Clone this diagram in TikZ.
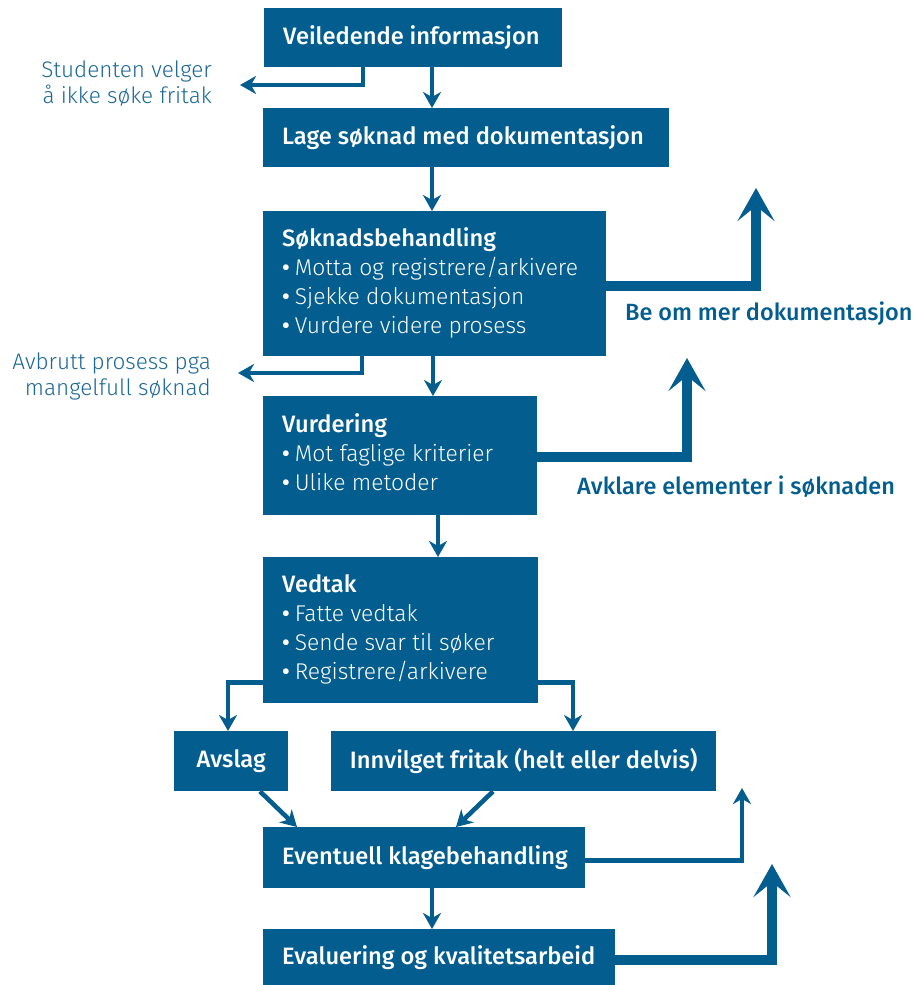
\documentclass[tikz,border=0pt]{standalone}
\usepackage{fontspec}
\usetikzlibrary{arrows.meta}
\setmainfont{Fira Sans}
\IfFontExistsTF{Fira Sans Light}{\newfontfamily\lightf{Fira Sans Light}}{%
  \IfFontExistsTF{FiraSans-Light}{\newfontfamily\lightf{FiraSans-Light}}{\newcommand\lightf{\rmfamily\mdseries}}}
\IfFontExistsTF{Fira Sans Medium}{\newfontfamily\medf{Fira Sans Medium}}{%
  \IfFontExistsTF{FiraSans-Medium}{\newfontfamily\medf{FiraSans-Medium}}{\newcommand\medf{\bfseries}}}
\newcommand\bul{{\medf •}\hspace{5pt}}
\definecolor{uioblue}{RGB}{3,94,143}
\definecolor{lblblue}{RGB}{28,104,150}
\begin{document}
\begin{tikzpicture}[x=1pt,y=-1pt,
  box/.style={fill=uioblue, text=white, inner xsep=19pt, inner ysep=0pt, anchor=north west,
    font=\medf\fontsize{23.7}{29}\selectfont},
  cbox/.style={box, inner xsep=0pt},
  tarrow/.style={draw=uioblue, line width=4.6pt, -{Stealth[length=16pt,width=18pt,inset=5pt]}},
  Tarrow/.style={draw=uioblue, line width=10pt, -{Stealth[length=33pt,width=37pt,inset=15pt]}},
  lab/.style={text=lblblue, font=\lightf\fontsize{22.5}{26}\selectfont, inner sep=0pt, align=right},
  rlab/.style={text=uioblue, font=\medf\fontsize{23.5}{29}\selectfont, inner sep=0pt}]
\useasboundingbox (0,0) rectangle (914,985);

% boxes
\node[box, minimum width=298pt, minimum height=59pt] (b1) at (264,8)
  {\makebox[260pt][l]{Veiledende informasjon}};
\node[box, minimum width=406pt, minimum height=59pt] (b2) at (263,108)
  {\makebox[368pt][l]{Lage søknad med dokumentasjon}};
\node[box, minimum width=343pt, minimum height=145pt] (b3) at (263,211)
  {\makebox[305pt][l]{\begin{tabular}{@{}l@{}}Søknadsbehandling\\
   {\lightf\fontsize{22.8}{29}\selectfont\bul Motta og registrere/arkivere}\\
   {\lightf\fontsize{22.8}{29}\selectfont\bul Sjekke dokumentasjon}\\
   {\lightf\fontsize{22.8}{29}\selectfont\bul Vurdere videre prosess}\end{tabular}}};
\node[box, minimum width=274pt, minimum height=119pt] (b4) at (263,396)
  {\makebox[236pt][l]{\begin{tabular}{@{}l@{}}Vurdering\\
   {\lightf\fontsize{22.8}{29}\selectfont\bul Mot faglige kriterier}\\
   {\lightf\fontsize{22.8}{29}\selectfont\bul Ulike metoder}\end{tabular}}};
\node[box, minimum width=275pt, minimum height=146pt] (b5) at (263,557)
  {\makebox[237pt][l]{\begin{tabular}{@{}l@{}}Vedtak\\
   {\lightf\fontsize{22.8}{29}\selectfont\bul Fatte vedtak}\\
   {\lightf\fontsize{22.8}{29}\selectfont\bul Sende svar til søker}\\
   {\lightf\fontsize{22.8}{29}\selectfont\bul Registrere/arkivere}\end{tabular}}};
\node[cbox, minimum width=114pt, minimum height=60pt] (b6) at (174,731) {Avslag};
\node[cbox, minimum width=385pt, minimum height=60pt] (b7) at (331,731) {Innvilget fritak (helt eller delvis)};
\node[box, minimum width=322pt, minimum height=61pt] (b8) at (263,827)
  {\makebox[284pt][l]{Eventuell klagebehandling}};
\node[box, minimum width=352pt, minimum height=56pt] (b9) at (263,929)
  {\makebox[314pt][l]{Evaluering og kvalitetsarbeid}};

% side labels
\node[lab, anchor=east] (l1) at (212,84) {Studenten velger\\å ikke søke fritak};
\node[lab, anchor=east] (l2) at (211,376) {Avbrutt prosess pga\\mangelfull søknad};
\node[rlab, anchor=base west] (r1) at (625,320) {Be om mer dokumentasjon};
\node[rlab, anchor=base west] (r2) at (577,494) {Avklare elementer i søknaden};

% helper coordinates
\coordinate (xa) at (432,0);
\coordinate (xb) at (438,0);
\coordinate (e1) at (240,85);
\coordinate (e2) at (238,373);
\coordinate (t1) at (756,188);
\coordinate (t2) at (687,358);
\coordinate (t3) at (742,788);
\coordinate (t4) at (772,864);

% connectors
\draw[tarrow] (xa |- b1.south) -- (xa |- b2.north);
\draw[tarrow] ([xshift=99pt]b1.south west) |- (e1);
\draw[tarrow] (xa |- b2.south) -- (xa |- b3.north);
\draw[tarrow] ([xshift=1pt]xa |- b3.south) -- ([xshift=1pt]xa |- b4.north);
\draw[tarrow] ([xshift=99pt]b3.south west) |- (e2);
\draw[Tarrow] ([yshift=-2.5pt]b3.east) -| (t1);
\draw[Tarrow] ([yshift=-1pt]b4.east) -| (t2);
\draw[tarrow] (xb |- b4.south) -- (xb |- b5.north);
\draw[tarrow] ([yshift=-52pt]b5.west) -| ([xshift=54pt]b6.north west);
\draw[tarrow] ([yshift=-52pt]b5.east) -| ([xshift=242pt]b7.north west);
\draw[tarrow] ([xshift=86pt]b6.south west) -- ([xshift=34pt]b8.north west);
\draw[tarrow] ([xshift=162pt]b7.south west) -- ([xshift=193pt]b8.north west);
\draw[tarrow] ([yshift=-3pt]b8.east) -| (t3);
\draw[tarrow] (xa |- b8.south) -- (xa |- b9.north);
\draw[Tarrow] ([yshift=-3pt]b9.east) -| (t4);
\end{tikzpicture}
\end{document}
